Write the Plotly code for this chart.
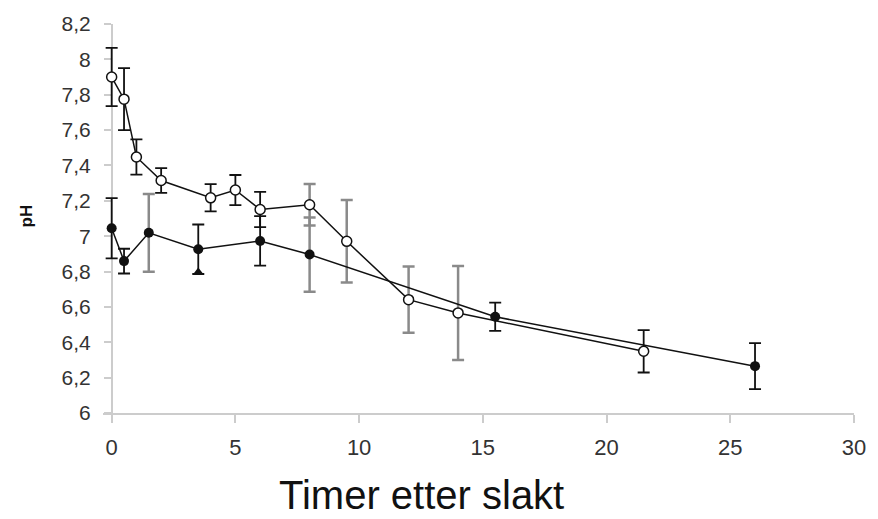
import plotly.graph_objects as go

# Open circles series
x_open = [0, 0.5, 1, 2, 4, 5, 6, 8, 9.5, 12, 14, 21.5]
y_open = [7.90, 7.775, 7.448, 7.315, 7.217, 7.261, 7.151, 7.178, 6.971, 6.641, 6.566, 6.349]
err_open = [0.165, 0.175, 0.10, 0.07, 0.077, 0.085, 0.10, 0.117, 0.233, 0.187, 0.266, 0.12]
grey_open = [0, 0, 0, 0, 0, 0, 0, 1, 1, 1, 1, 0]

# Filled circles series
x_filled = [0, 0.5, 1.5, 3.5, 6, 8, 15.5, 26]
y_filled = [7.045, 6.859, 7.019, 6.926, 6.973, 6.896, 6.544, 6.265]
err_filled = [0.17, 0.07, 0.22, 0.14, 0.14, 0.21, 0.08, 0.13]
grey_filled = [0, 0, 1, 0, 0, 1, 0, 0]

# stray triangle marker
x_tri = [3.5]
y_tri = [6.80]

y_ticks = [6, 6.2, 6.4, 6.6, 6.8, 7, 7.2, 7.4, 7.6, 7.8, 8, 8.2]
y_ticktext = ["6", "6,2", "6,4", "6,6", "6,8", "7", "7,2", "7,4", "7,6", "7,8", "8", "8,2"]
x_ticks = [0, 5, 10, 15, 20, 25, 30]
x_min, x_max = -0.35, 30

x_title = "Timer etter slakt"
y_title = "pH"

W, H = 878, 519
ML, MR, MT, MB = 103, 15, 19, 106
PW, PH = W - ML - MR, H - MT - MB


def px_x(p):
    return (p - ML) / PW


def px_y(p):
    return (H - MB - p) / PH


fig = go.Figure()


def add_err(xs, ys, es, flags, want, color, thick):
    sx = [x for x, f in zip(xs, flags) if f == want]
    sy = [y for y, f in zip(ys, flags) if f == want]
    se = [e for e, f in zip(es, flags) if f == want]
    if not sx:
        return
    fig.add_trace(go.Scatter(
        x=sx, y=sy, mode="markers", cliponaxis=False,
        marker=dict(size=1, opacity=0),
        error_y=dict(type="data", array=se, visible=True, color=color,
                     thickness=thick, width=6),
        showlegend=False, hoverinfo="skip"))


for want, col, th in [(1, "#8a8a8a", 2.5), (0, "#111111", 1.8)]:
    add_err(x_open, y_open, err_open, grey_open, want, col, th)
    add_err(x_filled, y_filled, err_filled, grey_filled, want, col, th)

fig.add_trace(go.Scatter(
    x=x_filled, y=y_filled, mode="lines+markers", cliponaxis=False,
    line=dict(color="#111111", width=1.5),
    marker=dict(symbol="circle", size=10, color="#111111"),
    showlegend=False))
fig.add_trace(go.Scatter(
    x=x_open, y=y_open, mode="lines+markers", cliponaxis=False,
    line=dict(color="#111111", width=1.5),
    marker=dict(symbol="circle", size=10, color="white",
                line=dict(color="#111111", width=1.5)),
    showlegend=False))
fig.add_trace(go.Scatter(
    x=x_tri, y=y_tri, mode="markers", cliponaxis=False,
    marker=dict(symbol="triangle-up", size=8, color="#111111"),
    showlegend=False))

fig.update_layout(
    width=W, height=H,
    margin=dict(l=ML, r=MR, t=MT, b=MB),
    paper_bgcolor="white", plot_bgcolor="white",
    font=dict(family="Liberation Sans, Arial, sans-serif", color="#333333"),
    showlegend=False,
)
fig.update_xaxes(
    range=[x_min, x_max], tickvals=x_ticks, ticktext=[str(v) for v in x_ticks],
    showgrid=False, zeroline=False, layer="below traces",
    showline=True, linecolor="#cccccc", linewidth=1.5,
    ticks="outside", tickcolor="#cccccc", ticklen=8, tickwidth=1.5,
    ticklabelstandoff=6,
    tickfont=dict(size=22, color="#333333"),
)
fig.update_yaxes(
    range=[6, 8.2], tickvals=y_ticks, ticktext=y_ticktext,
    anchor="free", position=(0 - x_min) / (x_max - x_min),
    showgrid=False, zeroline=False, layer="below traces",
    showline=True, linecolor="#cccccc", linewidth=1.5,
    ticks="outside", tickcolor="#cccccc", ticklen=7, tickwidth=1.5,
    ticklabelstandoff=9,
    tickfont=dict(size=21, color="#333333"),
)
fig.add_annotation(
    text=x_title, xref="paper", yref="paper",
    x=px_x(425.5), y=px_y(496),
    showarrow=False, xanchor="center", yanchor="middle",
    font=dict(size=40, color="#111111", family="Liberation Sans, Arial, sans-serif"))
fig.add_annotation(
    text="<b>" + y_title + "</b>", xref="paper", yref="paper",
    x=px_x(26), y=px_y(213),
    showarrow=False, xanchor="center", yanchor="middle", textangle=-90,
    font=dict(size=17, color="#111111", family="Liberation Sans, Arial, sans-serif"))

fig.write_html("out.html")
